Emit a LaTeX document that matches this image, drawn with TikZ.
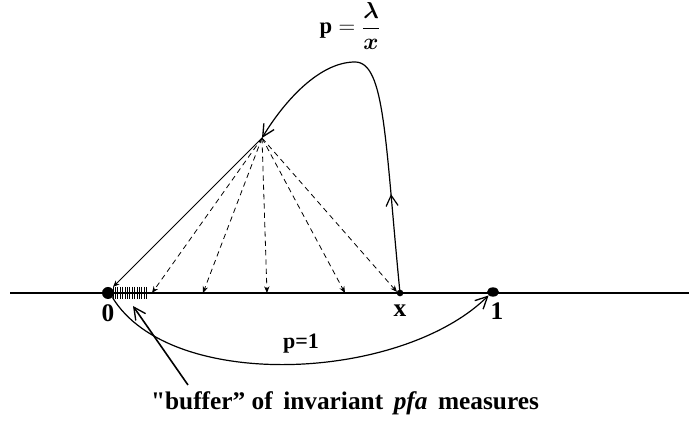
\documentclass[tikz,border=0pt]{standalone}
\usepackage{amsmath,amssymb,bm}
\usepackage{fontspec}
\setmainfont{Liberation Serif}
\usetikzlibrary{arrows.meta,positioning,calc,decorations.markings,shapes.geometric}
\tikzset{
  x=0.75pt,y=-0.75pt,
  >={Stealth[length=5pt,width=4pt]},
  vee/.style={-{Straight Barb[length=9pt,width=9pt,line width=1pt]}},
  axisline/.style={line width=1pt},
  dot/.style={circle,fill=black,inner sep=0pt,minimum size=#1},
  edot/.style={ellipse,fill=black,inner sep=0pt,minimum width=9pt,minimum height=7pt},
  ptlab/.style={font=\bfseries\fontsize{19}{20}\selectfont,anchor=north},
  jump/.style={->,line width=0.6pt},
  djump/.style={->,line width=0.6pt,dash pattern=on 4pt off 3pt},
  upmark/.style={postaction={decorate},
    decoration={markings,mark=at position 0.27 with {\arrow{Straight Barb[length=8pt,width=9pt]}}}},
  note/.style={font=\bfseries\fontsize{#1}{#1}\selectfont},
}
\begin{document}
\begin{tikzpicture}
  \useasboundingbox (0,0) rectangle (689,423);
  % axis
  \coordinate (left) at (10,293);
  \coordinate (right) at (689,293);
  \draw[axisline] (left) -- (right);
  \node[dot=9pt] (zero) at (108,293) {};
  \node[dot=5pt] (xpt) at (400,293) {};
  \node[edot] (one) at (493,292) {};
  \node[ptlab] (lzero) at (108,300) {0};
  \node[ptlab] (lx) at (400,300) {x};
  \node[ptlab] (lone) at (497,298) {1};
  % buffer ticks
  \foreach \i in {0,...,14} {
    \draw[line width=0.7pt] (113+\i*2.4,287) -- (113+\i*2.4,299);
  }
  % apex and jumps
  \coordinate (apex) at (262,138);
  \coordinate (t0) at (113,287);
  \coordinate (t1) at (152,293);
  \coordinate (t2) at (203,293);
  \coordinate (t3) at (267,293);
  \coordinate (t4) at (345,293);
  \coordinate (t5) at (397,292);
  \draw[jump] (apex) -- (t0);
  \foreach \t in {t1,t2,t3,t4,t5} {
    \draw[djump] (apex) -- (\t);
  }
  % return curve
  \draw[upmark,vee,line width=0.9pt] (xpt.center) .. controls (385,140) and (385,62) .. (355,62)
    .. controls (320,62) and (285,100) .. (apex);
  \node[font=\fontsize{17}{19}\selectfont] (plab) at (350,26) {$\mathbf{p}=\displaystyle\frac{\bm{\lambda}}{\bm{x}}$};
  % p=1 jump
  \draw[vee,line width=0.9pt] (zero.south east) .. controls (170,392) and (400,382) .. (one.south west);
  \node[note=16.5] (pone) at (301,344) {p=1};
  % buffer note
  \node[note=19] (buf) at (345,403) {\textquotedbl buffer” of\, invariant\, \textit{pfa}\, measures};
  \coordinate (bufptr) at (188,385);
  \draw[vee,line width=1.2pt] (bufptr) -- (133,306);
\end{tikzpicture}
\end{document}
